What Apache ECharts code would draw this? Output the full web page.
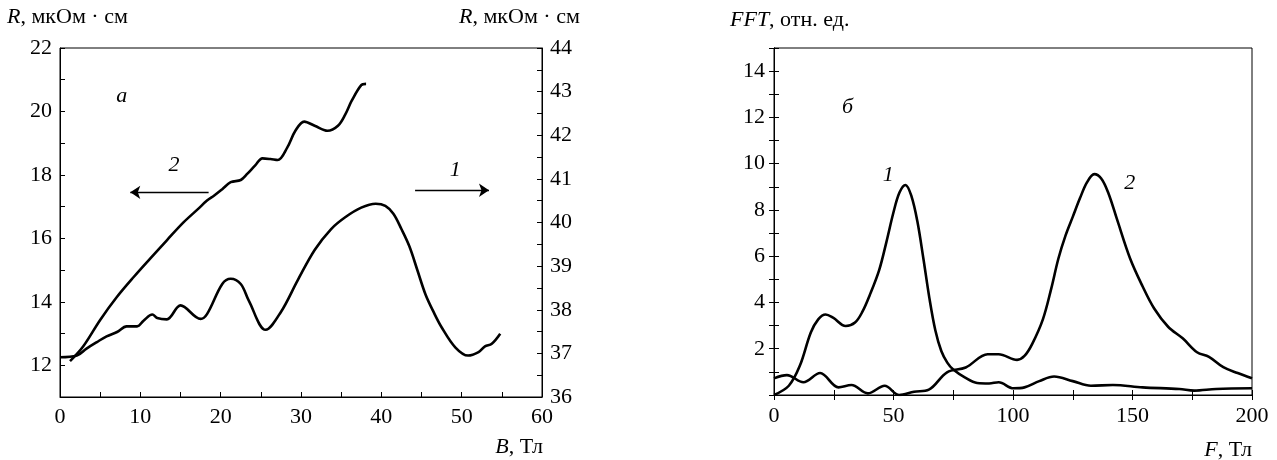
<!DOCTYPE html>
<html>
<head>
<meta charset="utf-8">
<script src="https://cdn.jsdelivr.net/npm/echarts@6/dist/echarts.min.js"></script>
<style>
html,body{margin:0;padding:0;background:#fff;}
#chart{width:1277px;height:460px;}
</style>
</head>
<body>
<div id="chart"></div>
<script>
// Panel a: curve 2 (left axis, R in мкОм·см)
var B2 = [1.25, 2.9, 5, 7.1, 9.2, 11.25, 13.3, 15.4, 17.2, 18.3, 19.2, 20.2, 21.25, 22.5, 23.3, 24.3, 25.2, 26.2, 27.1, 28.3, 29.3, 30.4, 31.7, 33.3, 34.6, 35.5, 36.3, 37.5, 38.1];
var R2 = [12.13, 12.6, 13.43, 14.16, 14.79, 15.37, 15.94, 16.51, 16.93, 17.19, 17.35, 17.55, 17.77, 17.84, 18.03, 18.3, 18.52, 18.5, 18.47, 18.87, 19.39, 19.68, 19.55, 19.39, 19.55, 19.9, 20.33, 20.83, 20.87];
// Panel a: curve 1 (right axis)
var B1 = [0, 2.1, 3.3, 4.6, 5.8, 7.1, 8.3, 9.6, 10.4, 11.5, 12.1, 13.3, 15, 17.5, 18.3, 20.2, 21.25, 22.5, 23.5, 25.6, 27.5, 29.6, 31.7, 33.75, 35.5, 37.5, 39.3, 40.5, 41.5, 42.5, 43.5, 44.5, 45.5, 46.5, 47.5, 49.2, 50.8, 52.1, 52.9, 53.75, 54.8];
var R1 = [36.91, 36.95, 37.11, 37.26, 37.39, 37.49, 37.62, 37.62, 37.75, 37.89, 37.81, 37.78, 38.1, 37.79, 37.9, 38.59, 38.71, 38.59, 38.21, 37.54, 37.95, 38.68, 39.37, 39.85, 40.12, 40.34, 40.43, 40.38, 40.2, 39.85, 39.45, 38.9, 38.35, 37.95, 37.6, 37.14, 36.95, 37.03, 37.16, 37.22, 37.45];
// Panel б: FFT curve 1
var F1 = [0, 6.2, 10.8, 15.4, 18.5, 21.6, 24.7, 30, 33.9, 37, 40, 44, 47, 50, 52.5, 55, 57.5, 60, 62.5, 65, 67.5, 70, 72.5, 75, 80, 85, 90, 94, 100.2, 104.8, 111, 117.2, 125, 132.6, 141.8, 154.2, 169.6, 175.8, 185, 200];
var V1 = [0, 0.4, 1.26, 2.7, 3.27, 3.48, 3.34, 2.98, 3.13, 3.6, 4.3, 5.4, 6.6, 7.9, 8.75, 9.08, 8.6, 7.5, 5.9, 4.2, 2.8, 1.9, 1.4, 1.1, 0.75, 0.52, 0.5, 0.55, 0.29, 0.33, 0.6, 0.8, 0.6, 0.4, 0.43, 0.33, 0.26, 0.19, 0.26, 0.29];
// Panel б: FFT curve 2
var F2 = [0, 5.4, 12.3, 19.3, 27, 32.4, 39.3, 46.3, 52.4, 58.6, 64.8, 72.4, 80.2, 89.4, 94, 101.7, 104.8, 108, 112.5, 116, 119, 122, 125, 128, 131, 134, 137, 140, 143.5, 149, 154.2, 159, 164.9, 171, 177, 182, 188, 194, 200];
var V2 = [0.72, 0.86, 0.55, 0.95, 0.33, 0.43, 0.07, 0.4, 0, 0.14, 0.23, 0.98, 1.19, 1.76, 1.76, 1.52, 1.69, 2.2, 3.27, 4.6, 5.9, 6.9, 7.7, 8.5, 9.2, 9.55, 9.35, 8.7, 7.6, 5.9, 4.7, 3.75, 2.95, 2.45, 1.85, 1.65, 1.2, 0.95, 0.72];

function zip(a, b) { return a.map(function (v, i) { return [v, b[i]]; }); }

var FONT = 'Liberation Serif';
var FS = 22;
var lbl = { fontFamily: FONT, fontSize: FS, color: '#000' };
var axLine = { show: true, lineStyle: { color: '#000', width: 1 } };
var tick = { show: true, inside: true, length: 5, lineStyle: { color: '#000', width: 1 } };

function t(txt, x, y, align) {
  return {
    type: 'text', x: x, y: y,
    style: {
      text: txt, textAlign: align || 'left', textVerticalAlign: 'middle',
      fontFamily: FONT, fontSize: FS, fill: '#000',
      rich: { i: { fontStyle: 'italic', fontFamily: FONT, fontSize: FS, fill: '#000' } }
    }
  };
}

var markLbl = function (items) {
  return {
    symbol: 'circle', symbolSize: 0, silent: true,
    label: { show: true, position: 'inside', formatter: '{b}', fontFamily: FONT, fontSize: FS, fontStyle: 'italic', color: '#000' },
    data: items
  };
};
var arrow = function (a, b) {
  return {
    silent: true, symbol: ['none', 'arrow'], symbolSize: 10,
    lineStyle: { color: '#000', width: 1.3, type: 'solid' },
    itemStyle: { color: '#000' },
    label: { show: false },
    data: [[{ coord: a }, { coord: b }]]
  };
};

var chart = echarts.init(document.getElementById('chart'));
chart.setOption({
  animation: false,
  backgroundColor: '#fff',
  grid: [
    { left: 60, top: 48, width: 482, height: 349, show: true, borderColor: '#000', borderWidth: 1, containLabel: false },
    { left: 774, top: 48, width: 478, height: 347, show: true, borderColor: '#000', borderWidth: 1, containLabel: false }
  ],
  xAxis: [
    { gridIndex: 0, type: 'value', min: 0, max: 60, interval: 5, position: 'bottom',
      axisLine: axLine, axisTick: tick, splitLine: { show: false },
      axisLabel: Object.assign({ margin: 9, formatter: function (v) { return v % 10 === 0 ? v : ''; } }, lbl) },
    { gridIndex: 1, type: 'value', min: 0, max: 200, interval: 25, position: 'bottom',
      axisLine: axLine, axisTick: tick, splitLine: { show: false },
      axisLabel: Object.assign({ margin: 10, formatter: function (v) { return v % 50 === 0 ? v : ''; } }, lbl) },
    { gridIndex: 1, type: 'value', min: 0, max: 200, interval: 25, position: 'top',
      axisLine: axLine, axisTick: tick, splitLine: { show: false }, axisLabel: { show: false } }
  ],
  yAxis: [
    { gridIndex: 0, type: 'value', min: 11, max: 22, interval: 1, position: 'left',
      axisLine: axLine, axisTick: tick, splitLine: { show: false },
      axisLabel: Object.assign({ margin: 8, formatter: function (v) { return v % 2 === 0 ? v : ''; } }, lbl) },
    { gridIndex: 0, type: 'value', min: 36, max: 44, interval: 0.5, position: 'right',
      axisLine: axLine, axisTick: tick, splitLine: { show: false },
      axisLabel: Object.assign({ margin: 8, formatter: function (v) { return Math.abs(v - Math.round(v)) < 1e-6 ? v : ''; } }, lbl) },
    { gridIndex: 1, type: 'value', min: 0, max: 15, interval: 1, position: 'left',
      axisLine: axLine, axisTick: tick, splitLine: { show: false },
      axisLabel: Object.assign({ margin: 9, formatter: function (v) { return (v % 2 === 0 && v > 0) ? v : ''; } }, lbl) },
    { gridIndex: 1, type: 'value', min: 0, max: 15, interval: 1, position: 'right',
      axisLine: axLine, axisTick: tick, splitLine: { show: false }, axisLabel: { show: false } }
  ],
  series: [
    { type: 'line', xAxisIndex: 0, yAxisIndex: 0, data: zip(B2, R2), smooth: 0.35, showSymbol: false,
      lineStyle: { color: '#000', width: 2.6 },
      markPoint: markLbl([{ name: 'а', coord: [7.7, 20.49] }, { name: '2', coord: [14.2, 18.31] }]),
      markLine: arrow([18.5, 17.45], [8.75, 17.45]) },
    { type: 'line', xAxisIndex: 0, yAxisIndex: 1, data: zip(B1, R1), smooth: 0.35, showSymbol: false,
      lineStyle: { color: '#000', width: 2.6 },
      markPoint: markLbl([{ name: '1', coord: [49.2, 41.2] }]),
      markLine: arrow([44.2, 40.74], [53.4, 40.74]) },
    { type: 'line', xAxisIndex: 1, yAxisIndex: 2, data: zip(F1, V1), smooth: 0.35, showSymbol: false,
      lineStyle: { color: '#000', width: 2.6 },
      markPoint: markLbl([{ name: 'б', coord: [30.8, 12.45] }, { name: '1', coord: [47.8, 9.5] }]) },
    { type: 'line', xAxisIndex: 1, yAxisIndex: 2, data: zip(F2, V2), smooth: 0.35, showSymbol: false,
      lineStyle: { color: '#000', width: 2.6 },
      markPoint: markLbl([{ name: '2', coord: [148.8, 9.17] }]) }
  ],
  graphic: [
    t('{i|R}, мкОм · см', 7, 17),
    t('{i|R}, мкОм · см', 459, 17),
    t('{i|FFT}, отн. ед.', 730, 20),
    t('{i|B}, Тл', 543, 447, 'right'),
    t('{i|F}, Тл', 1252, 450, 'right')
  ]
});
</script>
</body>
</html>
